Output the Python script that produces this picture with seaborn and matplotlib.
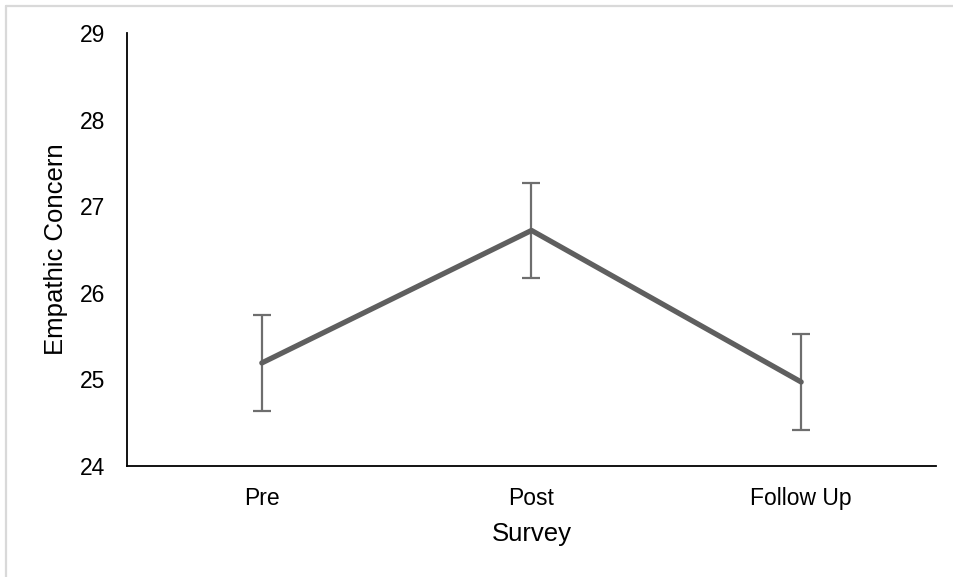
import matplotlib
matplotlib.use('Agg')
import matplotlib.pyplot as plt
import seaborn as sns
import pandas as pd
from matplotlib.lines import Line2D

# survey waves and mean scores
surveys = ['Pre', 'Post', 'Follow Up']
means = [25.19, 26.72, 24.97]
errors = [0.55, 0.55, 0.55]

df = pd.DataFrame({'Survey': surveys, 'Empathic Concern': means, 'err': errors})

sns.set_style('white')
plt.rcParams['font.family'] = ['Liberation Sans', 'DejaVu Sans']
plt.rcParams['text.color'] = 'black'
plt.rcParams['axes.labelcolor'] = 'black'

fig = plt.figure(figsize=(9.54, 5.77), dpi=100)
ax = fig.add_axes([127 / 954, 1 - 466 / 577, (936 - 127) / 954, (466 - 33) / 577])

# error bars under the line
ax.errorbar(df['Survey'], df['Empathic Concern'], yerr=df['err'], fmt='none',
            ecolor='#6e6e6e', elinewidth=1.6, capsize=6.5, capthick=1.6, zorder=2)
sns.lineplot(data=df, x='Survey', y='Empathic Concern', ax=ax, color='#5f5f5f',
             linewidth=3.8, sort=False, solid_capstyle='round', zorder=3)

ax.set_xlim(-0.5, 2.5)
ax.set_ylim(24, 29)
ax.set_yticks([24, 25, 26, 27, 28, 29])

for s in ['top', 'right']:
    ax.spines[s].set_visible(False)
for s in ['left', 'bottom']:
    ax.spines[s].set_color('black')
    ax.spines[s].set_linewidth(1.3)

ax.tick_params(axis='both', length=0, labelsize=16.5, colors='black')
ax.tick_params(axis='y', pad=16)
ax.tick_params(axis='x', pad=15)
ax.set_xlabel('Survey', fontsize=18.5, labelpad=9, color='black')
ax.set_ylabel('Empathic Concern', fontsize=18.5, labelpad=8, color='black')

# light frame around the chart area
fig.add_artist(Line2D([6.5 / 954, 1], [1 - 5.5 / 577, 1 - 5.5 / 577], color='#d9d9d9', lw=1.6))
fig.add_artist(Line2D([6.5 / 954, 6.5 / 954], [0, 1 - 5.5 / 577], color='#d9d9d9', lw=1.6))

fig.savefig('out.png', dpi=100)
